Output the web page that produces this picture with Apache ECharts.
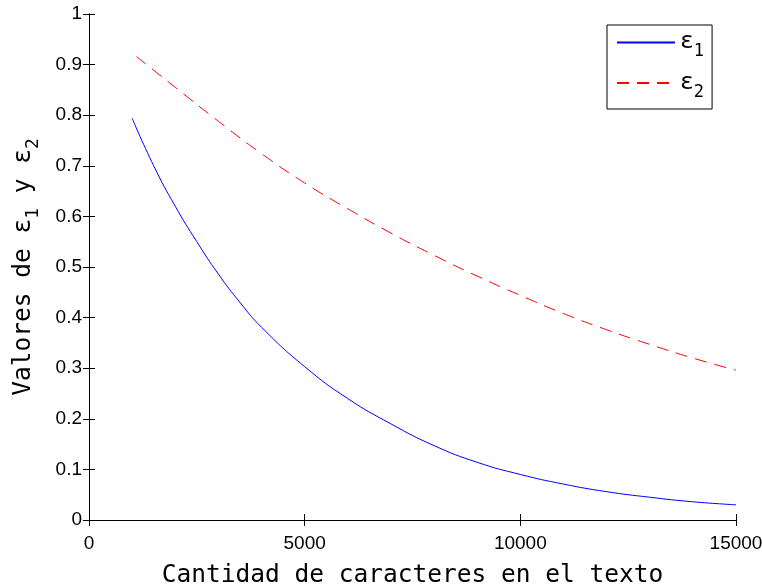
<!DOCTYPE html>
<html>
<head>
<meta charset="utf-8">
<script src="https://cdn.jsdelivr.net/npm/echarts@6/dist/echarts.min.js"></script>
<style>
html,body{margin:0;padding:0;background:#fff;}
#c{width:762px;height:588px;}
</style>
</head>
<body>
<div id="c"></div>
<script>
// Data
var seriesNames = ['ε1', 'ε2'];
var e1X = [1000, 1500, 2000, 2500, 3000, 3500, 4000, 5000, 6000, 7000, 8000, 9000, 10000, 11000, 12000, 13000, 14000, 15000];
var e1Y = [0.794, 0.700, 0.620, 0.550, 0.486, 0.430, 0.381, 0.303, 0.240, 0.190, 0.147, 0.114, 0.090, 0.071, 0.056, 0.045, 0.036, 0.030];
var e2X = [1100, 2000, 3000, 4000, 5000, 6000, 7000, 8000, 9000, 10000, 11000, 12000, 13000, 14000, 15000];
var e2Y = [0.916, 0.855, 0.788, 0.724, 0.666, 0.615, 0.567, 0.523, 0.482, 0.444, 0.408, 0.376, 0.347, 0.320, 0.296];
var xTicks = [0, 5000, 10000, 15000];
var yTicks = [0, 0.1, 0.2, 0.3, 0.4, 0.5, 0.6, 0.7, 0.8, 0.9, 1];
var xTitle = 'Cantidad de caracteres en el texto';

function pairs(xs, ys) { return xs.map(function (x, i) { return [x, ys[i]]; }); }

var monoFont = "'DejaVu Sans Mono', monospace";
var tickFont = "'Liberation Sans', Arial, sans-serif";

var chart = echarts.init(document.getElementById('c'), null, { renderer: 'canvas' });

var axisCommon = {
  axisLine: { show: true, lineStyle: { color: '#000', width: 1 } },
  axisTick: { show: true, inside: true, length: 6, lineStyle: { color: '#000', width: 1 } },
  splitLine: { show: false }
};

chart.setOption({
  animation: false,
  backgroundColor: '#fff',
  grid: { left: 89, right: 26, top: 14, bottom: 68, containLabel: false, outerBoundsMode: 'none' },
  legend: {
    data: seriesNames,
    orient: 'vertical',
    left: 607,
    top: 25,
    padding: [6, 8, 8, 9],
    itemWidth: 58,
    itemHeight: 14,
    itemGap: 11,
    borderColor: '#000',
    borderWidth: 1,
    backgroundColor: '#fff',
    itemStyle: { opacity: 0 },
    formatter: function (name) { return '{e|ε}{s|' + name.slice(1) + '}'; },
    textStyle: {
      color: '#000',
      rich: {
        e: { fontFamily: monoFont, fontSize: 23, lineHeight: 36, color: '#000' },
        s: { fontFamily: monoFont, fontSize: 17, lineHeight: 14, verticalAlign: 'bottom', color: '#000' }
      }
    }
  },
  xAxis: [
    Object.assign({}, axisCommon, {
      type: 'value', position: 'bottom', min: xTicks[0], max: xTicks[xTicks.length - 1], interval: 5000,
      name: xTitle, nameLocation: 'middle', nameGap: 43,
      nameTextStyle: { fontFamily: monoFont, fontSize: 24.5, color: '#000' },
      axisLabel: {
        show: true, margin: 14, color: '#000', fontFamily: tickFont, fontSize: 19, showMinLabel: true, showMaxLabel: true,
        formatter: function (v) { return String(v); }
      }
    }),
    Object.assign({}, axisCommon, {
      type: 'value', position: 'top', min: xTicks[0], max: xTicks[xTicks.length - 1], interval: 5000,
      axisLabel: { show: false }
    })
  ],
  yAxis: [
    Object.assign({}, axisCommon, {
      type: 'value', position: 'left', min: yTicks[0], max: yTicks[yTicks.length - 1], interval: 0.1,
      name: '{m|Valores de ε}{s|1}{m| y ε}{s|2}', nameLocation: 'middle', nameGap: 47,
      nameTextStyle: {
        color: '#000',
        rich: {
          m: { fontFamily: monoFont, fontSize: 24.5, lineHeight: 36, color: '#000' },
          s: { fontFamily: monoFont, fontSize: 18, lineHeight: 16, verticalAlign: 'bottom', color: '#000' }
        }
      },
      axisLabel: {
        show: true, margin: 7, color: '#000', fontFamily: tickFont, fontSize: 19, showMinLabel: true, showMaxLabel: true,
        formatter: function (v) { return String(Math.round(v * 10) / 10); }
      }
    }),
    Object.assign({}, axisCommon, {
      type: 'value', position: 'right', min: yTicks[0], max: yTicks[yTicks.length - 1], interval: 0.1,
      axisLabel: { show: false }
    })
  ],
  series: [
    {
      name: seriesNames[0], type: 'line', xAxisIndex: 0, yAxisIndex: 0,
      data: pairs(e1X, e1Y), symbol: 'none', smooth: 0.5,
      itemStyle: { color: '#0000ff' },
      lineStyle: { color: '#0000ff', width: 1, type: 'solid' }
    },
    {
      name: seriesNames[1], type: 'line', xAxisIndex: 0, yAxisIndex: 0,
      data: pairs(e2X, e2Y), symbol: 'none', smooth: 0.5,
      itemStyle: { color: '#ff0000' },
      lineStyle: { color: '#ff0000', width: 1, type: [12, 8] }
    }
  ]
});
</script>
</body>
</html>
